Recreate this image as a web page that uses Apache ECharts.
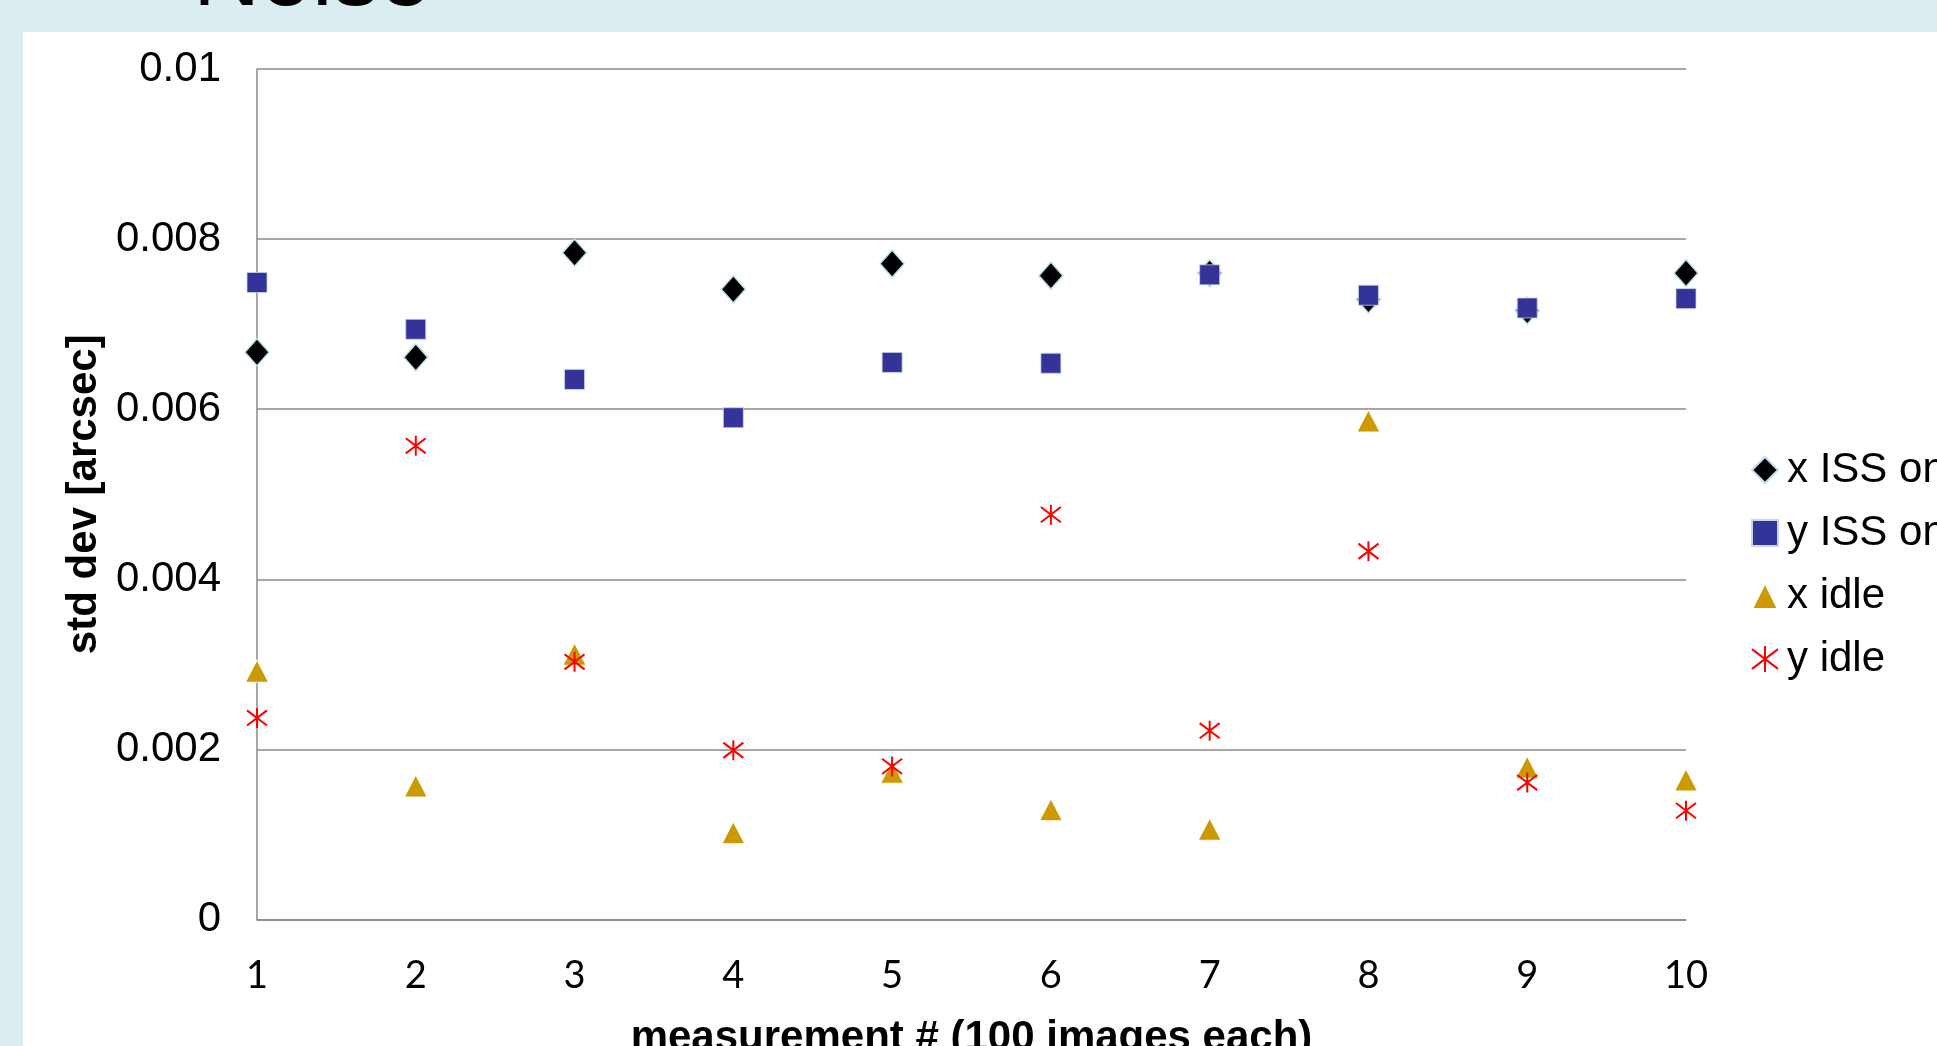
<!DOCTYPE html>
<html>
<head>
<meta charset="utf-8">
<style>
  html, body { margin: 0; padding: 0; background: #daedf0; overflow: hidden; }
  #chart { width: 1937px; height: 1046px; }
</style>
<script src="https://cdn.jsdelivr.net/npm/echarts@6/dist/echarts.min.js"></script>
</head>
<body>
<div id="chart"></div>
<script>
const measurements = [1, 2, 3, 4, 5, 6, 7, 8, 9, 10];
const seriesNames = ['x ISS on', 'y ISS on', 'x idle', 'y idle'];
const xIssOn  = [0.00667, 0.00661, 0.00784, 0.00741, 0.00771, 0.00757, 0.00760, 0.00729, 0.00716, 0.00760];
const yIssOn  = [0.00749, 0.00694, 0.00635, 0.00590, 0.00655, 0.00654, 0.00758, 0.00734, 0.00719, 0.00730];
const xIdle   = [0.00292, 0.00157, 0.00312, 0.00102, 0.00173, 0.00129, 0.00106, 0.00586, 0.00179, 0.00164];
const yIdle   = [0.00237, 0.00557, 0.00303, 0.00199, 0.00180, 0.00476, 0.00222, 0.00433, 0.00161, 0.00128];
const yTicks  = [0, 0.002, 0.004, 0.006, 0.008, 0.01];
const title = 'Noise';
const xTitle = 'measurement # (100 images each)';
const yTitle = 'std dev [arcsec]';

const pairs = vals => measurements.map((m, i) => [m, vals[i]]);
const asterisk = 'path://M50 0 L50 100 M0 12 L100 88 M100 12 L0 88';
const gridColor = '#8a8a8a';
const arial = '"Liberation Sans", Arial, sans-serif';

const chart = echarts.init(document.getElementById('chart'), null, { renderer: 'canvas' });
chart.setOption({
  backgroundColor: '#daedf0',
  animation: false,
  graphic: [
    { type: 'rect', z: -10, shape: { x: 23, y: 32, width: 1920, height: 1020 }, style: { fill: '#ffffff' } },
    { type: 'text', z: 10, x: 193, y: -21,
      style: { text: title, font: 'normal 93px "Liberation Sans", Arial, sans-serif', fill: '#000000',
               textAlign: 'left', textVerticalAlign: 'middle', align: 'left', verticalAlign: 'middle' } }
  ],
  grid: { left: 257, right: 251, top: 69, bottom: 126.5, containLabel: false, outerBoundsMode: 'none' },
  xAxis: {
    type: 'value', min: 1, max: 10, interval: 1,
    name: xTitle, nameLocation: 'middle', nameGap: 98,
    nameTextStyle: { fontFamily: arial, fontSize: 42, fontWeight: 'bold', color: '#000' },
    axisLine: { show: true, lineStyle: { color: gridColor, width: 1.5 } },
    axisTick: { show: false },
    splitLine: { show: false },
    axisLabel: { margin: 37, fontFamily: 'Lato, "Open Sans", sans-serif', fontSize: 38, color: '#000' }
  },
  yAxis: {
    type: 'value', min: yTicks[0], max: yTicks[yTicks.length - 1], interval: yTicks[1] - yTicks[0],
    name: yTitle, nameLocation: 'middle', nameGap: 146, nameRotate: 90,
    nameTextStyle: { fontFamily: arial, fontSize: 42, fontWeight: 'bold', color: '#000' },
    axisLine: { show: true, lineStyle: { color: gridColor, width: 1.5 } },
    axisTick: { show: false },
    splitLine: { show: true, lineStyle: { color: gridColor, width: 1.5 } },
    axisLabel: { margin: 36, fontFamily: arial, fontSize: 42, color: '#000',
      formatter: v => (v === 0 ? '0' : String(parseFloat(v.toFixed(4)))) }
  },
  legend: {
    orient: 'vertical', left: 1746, top: 444, itemGap: 21,
    itemWidth: 26, itemHeight: 26,
    textStyle: { fontFamily: arial, fontSize: 42, color: '#000', lineHeight: 42, padding: [0, 0, 0, 4] },
    data: seriesNames
  },
  series: [
    { name: seriesNames[0], type: 'scatter', data: pairs(xIssOn), symbol: 'diamond', symbolSize: [24, 27],
      itemStyle: { color: '#000000', borderColor: '#b9e0e6', borderWidth: 1.5, opacity: 1 } },
    { name: seriesNames[1], type: 'scatter', data: pairs(yIssOn), symbol: 'rect', symbolSize: [20, 20],
      itemStyle: { color: '#333399', borderColor: '#c9d6ea', borderWidth: 0.8, opacity: 1 } },
    { name: seriesNames[2], type: 'scatter', data: pairs(xIdle), symbol: 'triangle', symbolSize: [23, 22],
      itemStyle: { color: '#cc9900', borderColor: '#ffffff', borderWidth: 1, opacity: 1 } },
    { name: seriesNames[3], type: 'scatter', data: pairs(yIdle), symbol: asterisk, symbolSize: [20, 20],
      itemStyle: { color: '#ff0000', borderColor: '#ff0000', borderWidth: 2, opacity: 1 } }
  ]
});
</script>
</body>
</html>
